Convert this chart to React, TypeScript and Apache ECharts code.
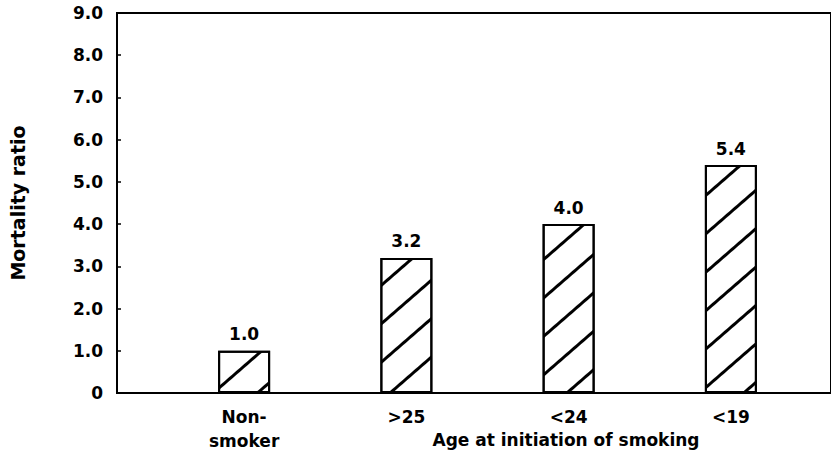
import React, { useEffect, useRef } from "react";
import * as echarts from "echarts";

const categories = ["Non-\nsmoker", ">25", "<24", "<19"];
const mortalityRatio = [1.0, 3.2, 4.0, 5.4];
const yMin = 0;
const yMax = 9;
const yInterval = 1;
const yAxisTitle = "Mortality ratio";
const xAxisTitle = "Age at initiation of smoking";

const FONT = "DejaVu Sans";

export default function App() {
  const ref = useRef<HTMLDivElement>(null);
  useEffect(() => {
    if (!ref.current) return;
    const chart = echarts.init(ref.current, null, { renderer: "svg" });
    const option: any = {
      animation: false,
      backgroundColor: "#fff",
      aria: { enabled: true, decal: { show: true } },
      textStyle: { fontFamily: FONT, color: "#000" },
      grid: [
        { left: 108, right: -6, top: 13, bottom: 61, show: true, borderColor: "#000", borderWidth: 2, backgroundColor: "transparent" },
        { left: 163, right: 19, top: 13, bottom: 61 },
      ],
      xAxis: [
        { gridIndex: 0, type: "value", min: 0, max: 1, show: false },
        {
          gridIndex: 1,
          type: "category",
          data: categories,
          axisLine: { show: false },
          axisTick: { show: false },
          axisLabel: {
            margin: 12,
            fontSize: 17,
            fontWeight: "bold",
            color: "#000",
            lineHeight: 24,
            fontFamily: FONT,
          },
        },
      ],
      yAxis: [
        {
          gridIndex: 0,
          type: "value",
          min: yMin,
          max: yMax,
          interval: yInterval,
          name: yAxisTitle,
          nameLocation: "middle",
          nameGap: 90,
          nameTextStyle: { fontSize: 19, fontWeight: "bold", color: "#000", fontFamily: FONT },
          axisLine: { show: true, lineStyle: { color: "#000", width: 2 } },
          axisTick: { show: true, inside: true, length: 4, lineStyle: { color: "#000", width: 1.5 } },
          splitLine: { show: false },
          axisLabel: {
            margin: 14,
            fontSize: 17,
            fontWeight: "bold",
            color: "#000",
            fontFamily: FONT,
            formatter: (v: number) => (v === 0 ? "0" : v.toFixed(1)),
          },
        },
        { gridIndex: 1, type: "value", min: yMin, max: yMax, show: false },
      ],
      series: [
        {
          type: "bar",
          xAxisIndex: 1,
          yAxisIndex: 1,
          data: mortalityRatio,
          barWidth: 52,
          itemStyle: {
            color: "#fff",
            borderColor: "#000",
            borderWidth: 2,
            decal: {
              symbol: "rect",
              symbolSize: 1,
              dashArrayX: [1, 0],
              dashArrayY: [2.2, 26],
              rotation: (-41 * Math.PI) / 180,
              color: "#000",
              backgroundColor: "#fff",
            },
          },
          label: {
            show: true,
            position: "top",
            distance: 8,
            fontSize: 17,
            fontWeight: "bold",
            color: "#000",
            fontFamily: FONT,
            formatter: (p: any) => Number(p.value).toFixed(1),
          },
        },
      ],
      graphic: [
        {
          type: "text",
          x: 566,
          y: 440,
          style: {
            text: xAxisTitle,
            fontSize: 17,
            fontWeight: "bold",
            fontFamily: FONT,
            fill: "#000",
            align: "center",
            verticalAlign: "middle",
          },
        },
      ],
    };
    chart.setOption(option);
    return () => chart.dispose();
  }, []);
  return (
    <div
      ref={ref}
      style={{ position: "fixed", left: 0, top: 0, width: 831, height: 454, background: "#fff" }}
    />
  );
}
